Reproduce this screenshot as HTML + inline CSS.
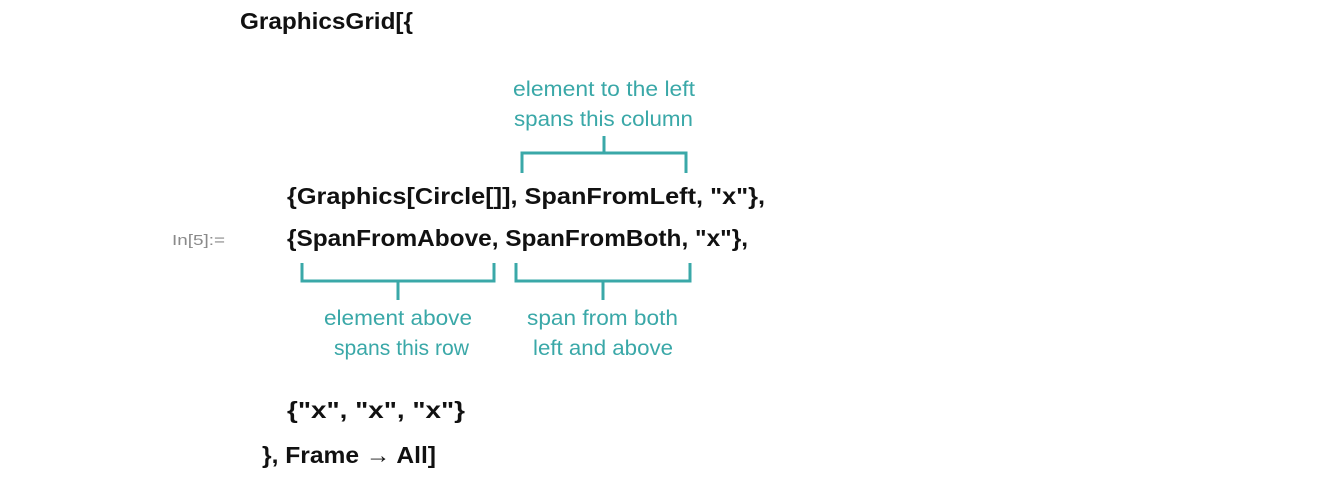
<!DOCTYPE html>
<html><head><meta charset="utf-8"><style>
html,body{margin:0;padding:0;background:#fff;width:1340px;height:482px;overflow:hidden}
svg{display:block}
.c{font-family:"Liberation Sans",sans-serif;font-weight:bold;font-size:23px;fill:#111}
.t{font-family:"Liberation Sans",sans-serif;font-size:21px;fill:#3aa8a8}
.g{font-family:"Liberation Sans",sans-serif;font-size:15px;fill:#8a8a8a}
</style></head><body>
<svg width="1340" height="482" viewBox="0 0 1340 482">
<text class="c" x="240" y="29" textLength="173" lengthAdjust="spacingAndGlyphs">GraphicsGrid[{</text>
<text class="t" x="513" y="96" textLength="182" lengthAdjust="spacingAndGlyphs">element to the left</text>
<text class="t" x="514" y="126" textLength="179" lengthAdjust="spacingAndGlyphs">spans this column</text>
<g stroke="#3aa8a8" stroke-width="3" fill="none">
<path d="M522 173 V153 H686 V173 M604 153 V136"/>
<path d="M302 263 V281 H494 V263 M398 281 V300"/>
<path d="M516 263 V281 H690 V263 M603 281 V300"/>
</g>
<text class="c" x="287" y="204" textLength="478" lengthAdjust="spacingAndGlyphs">{Graphics[Circle[]], SpanFromLeft, "x"},</text>
<text class="g" x="172" y="245" textLength="53" lengthAdjust="spacingAndGlyphs">In[5]:=</text>
<text class="c" x="287" y="246" textLength="461" lengthAdjust="spacingAndGlyphs">{SpanFromAbove, SpanFromBoth, "x"},</text>
<text class="t" x="324" y="325" textLength="148" lengthAdjust="spacingAndGlyphs">element above</text>
<text class="t" x="334" y="355" textLength="135" lengthAdjust="spacingAndGlyphs">spans this row</text>
<text class="t" x="527" y="325" textLength="151" lengthAdjust="spacingAndGlyphs">span from both</text>
<text class="t" x="533" y="355" textLength="140" lengthAdjust="spacingAndGlyphs">left and above</text>
<text class="c" x="287" y="418" textLength="178" lengthAdjust="spacingAndGlyphs">{"x", "x", "x"}</text>
<text class="c" x="262" y="463" textLength="174" lengthAdjust="spacingAndGlyphs">}, Frame → All]</text>
</svg>
</body></html>
